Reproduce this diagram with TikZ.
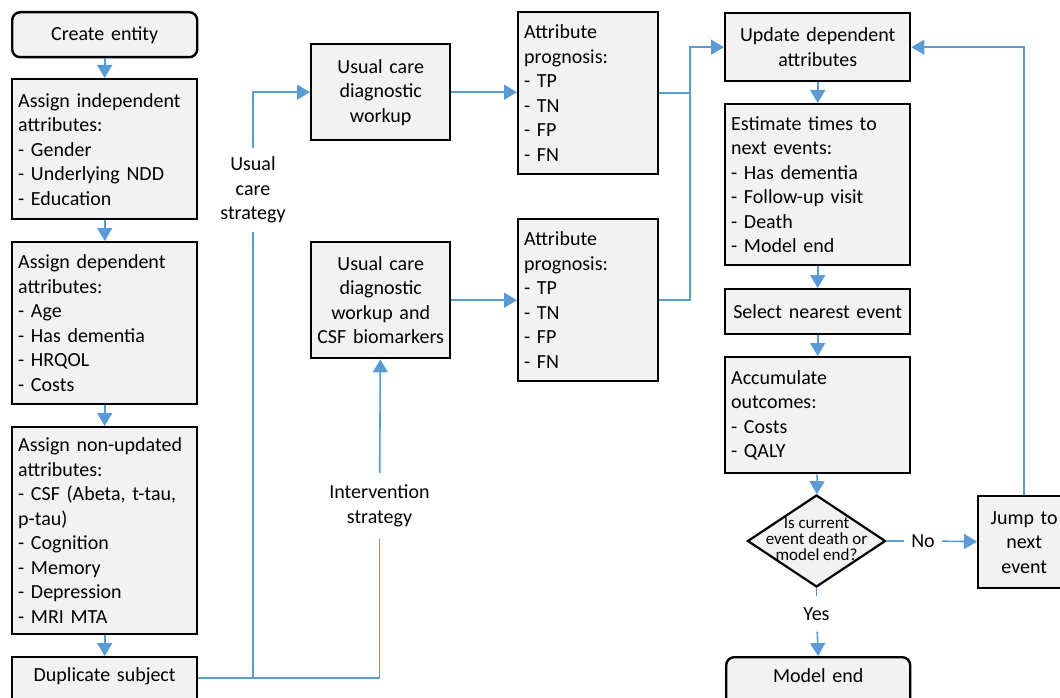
\documentclass[tikz,border=0pt]{standalone}
\usepackage{fontspec}
\setmainfont{Carlito}
\usetikzlibrary{arrows.meta,shapes.geometric}
\definecolor{boxgray}{RGB}{242,242,242}
\definecolor{flowblue}{RGB}{91,155,213}
\newcommand{\boxfont}{\fontsize{20}{24.5}\selectfont}
\newcommand{\diafont}{\fontsize{17}{16}\selectfont}
\tikzset{
  box/.style={draw=black, line width=2.4pt, fill=boxgray, font=\boxfont, inner xsep=6pt, inner ysep=3pt, anchor=north west},
  lbox/.style={box, align=left},
  cbox/.style={box, align=center},
  flow/.style={draw=flowblue, line width=1.6pt, -{Triangle[width=15pt,length=13pt]}},
  link/.style={draw=flowblue, line width=1.6pt},
  lbl/.style={font=\boxfont, align=center}
}
\begin{document}
\begin{tikzpicture}[x=1pt,y=-1pt]
\useasboundingbox (0,0) rectangle (1060,698);
\clip (0,0) rectangle (1060,698);
\fill[white] (0,0) rectangle (1060,698);

% left column
\node[cbox, rounded corners=8pt, text width=173pt, minimum height=45pt] (create) at (11,11) {Create entity};
\node[lbox, text width=173pt, minimum height=140pt] (indep) at (11,78) {Assign independent\\attributes:\\- Gender\\- Underlying NDD\\- Education};
\node[lbox, text width=173pt, minimum height=162pt] (dep) at (11,241) {Assign dependent\\attributes:\\- Age\\- Has dementia\\- HRQOL\\- Costs};
\node[lbox, text width=173pt, minimum height=207pt] (nonupd) at (11,426) {Assign non-updated\\attributes:\\- CSF (Abeta, t-tau,\\p-tau)\\- Cognition\\- Memory\\- Depression\\- MRI MTA};
\node[cbox, text width=173pt, text height=20pt, text depth=50pt, inner ysep=4pt] (dup) at (11,656) {Duplicate subject};

% middle column
\node[cbox, text width=127pt, minimum height=96pt] (uc1) at (310,43) {Usual care\\diagnostic\\workup};
\node[cbox, text width=127pt, minimum height=116pt] (uc2) at (310,241) {Usual care\\diagnostic\\workup and\\CSF biomarkers};
\node[lbox, text width=128pt, minimum height=162pt] (ap1) at (517,11) {Attribute\\prognosis:\\- TP\\- TN\\- FP\\- FN};
\node[lbox, text width=128pt, minimum height=162pt] (ap2) at (517,218) {Attribute\\prognosis:\\- TP\\- TN\\- FP\\- FN};

% right column
\node[cbox, text width=173pt, minimum height=68pt] (upd) at (724,12) {Update dependent\\attributes};
\node[lbox, text width=173pt, minimum height=161pt] (est) at (724,103) {Estimate times to\\next events:\\- Has dementia\\- Follow-up visit\\- Death\\- Model end};
\node[cbox, text width=173pt, minimum height=45pt] (sel) at (724,288) {Select nearest event};
\node[lbox, text width=173pt, minimum height=116pt] (acc) at (724,356) {Accumulate\\outcomes:\\- Costs\\- QALY};
\node[diamond, draw=black, line width=2.2pt, fill=boxgray, minimum width=138pt, minimum height=92pt, inner sep=0pt] (dia) at (816.5,541) {};
\node[font=\diafont, align=center, inner sep=0pt] (diat) at (816.5,539) {Is current\\event death or\\model end?};
\node[cbox, rounded corners=8pt, text width=172pt, text height=21pt, text depth=50pt, inner ysep=4pt] (mend) at (725,656) {Model end};
\node[cbox, text width=80pt, minimum height=92pt] (jump) at (977,495) {Jump to\\next\\event};

% labels
\node[lbl, inner sep=9pt] (ucs) at (253,190) {Usual\\care\\strategy};
\node[lbl, inner xsep=4pt, inner ysep=12pt] (ivs) at (379.5,506) {Intervention\\strategy};
\node[lbl, inner xsep=4pt, inner ysep=11pt] (yes) at (816.5,614) {Yes};
\node[lbl, inner xsep=7pt, inner ysep=4pt] (no) at (923,541) {No};

% connectors
\draw[flow] (create) -- (indep);
\draw[flow] (indep) -- (dep);
\draw[flow] (dep) -- (nonupd);
\draw[flow] (nonupd) -- (dup.north);

\coordinate (split) at (253,678);
\draw[link] ([yshift=-22pt]dup.north east) -| (ivs);
\draw[link] (split) -- (ucs);
\draw[flow] (ucs) |- (uc1.west);
\draw[flow] (ivs) -- (uc2);

\draw[flow] (uc1.east) -- (uc1.east -| ap1.west);
\draw[flow] (uc2.east) -- (uc2.east -| ap2.west);

\coordinate (bus) at (690,0);
\draw[link] (ap1.east) -- (ap1.east -| bus);
\draw[flow] (ap2.east) -| (bus |- upd.west) -- (upd.west);

\draw[flow] (upd) -- (est);
\draw[flow] (est) -- (sel);
\draw[flow] (sel) -- (acc);
\draw[flow] (acc) -- (dia);
\draw[link] (dia.south) -- (yes);
\draw[flow] (yes) -- (mend.north);
\draw[link] (dia.east) -- (no);
\draw[flow] (no) -- (jump);
\draw[flow] (jump.north) |- (upd.east);
\end{tikzpicture}
\end{document}
